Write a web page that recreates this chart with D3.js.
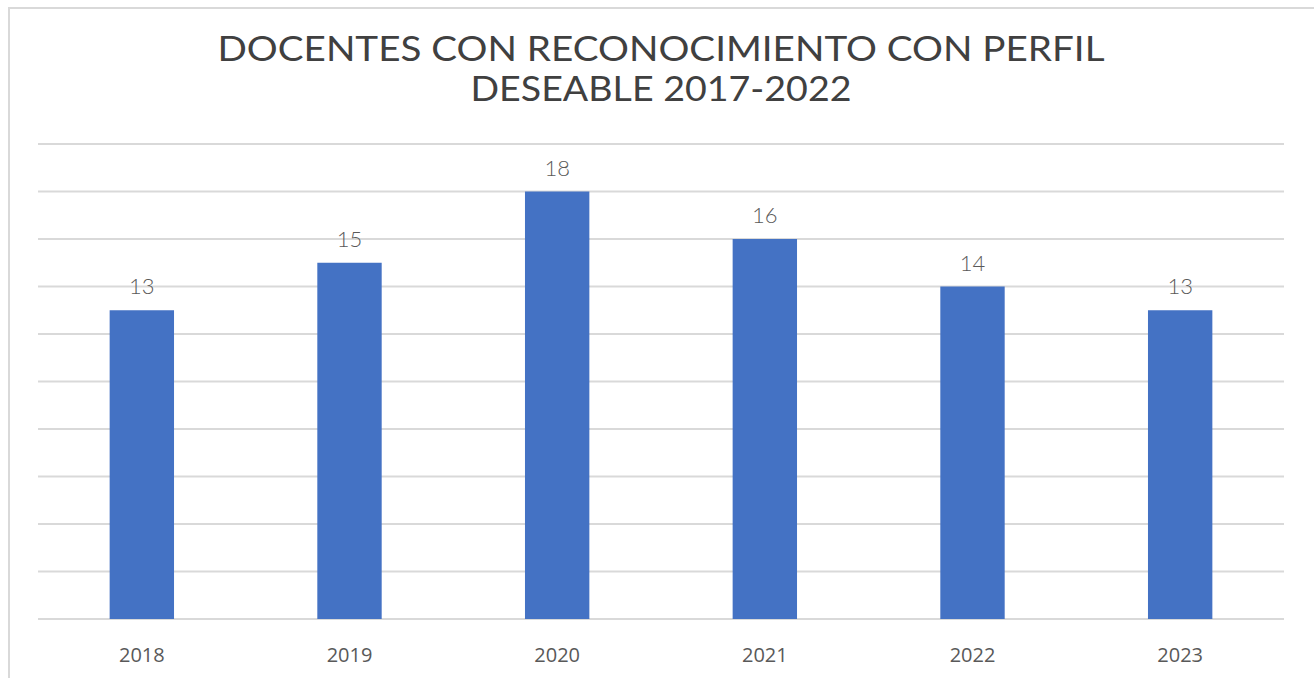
<!DOCTYPE html>
<html>
<head>
<meta charset="utf-8">
<script src="https://cdn.jsdelivr.net/npm/d3@7"></script>
<style>
  body { margin: 0; background: #fff; }
  svg { display: block; }
</style>
</head>
<body>
<svg id="chart" width="1314" height="678"></svg>
<script>
// chart data
const years = ["2018", "2019", "2020", "2021", "2022", "2023"];
const docentes = [13, 15, 18, 16, 14, 13];
const gridTicks = [0, 2, 4, 6, 8, 10, 12, 14, 16, 18, 20];
const titleLines = ["DOCENTES CON RECONOCIMIENTO CON PERFIL", "DESEABLE 2017-2022"];
const titleWidths = [887, 381];

const svg = d3.select("#chart");
const margin = {top: 144, right: 30, bottom: 59, left: 38};
const width = 1314, height = 678;

// outer chart border (left + top only are visible)
svg.append("path")
    .attr("d", "M9,678 L9,8 L1314,8")
    .attr("fill", "none")
    .attr("stroke", "#d9d9d9")
    .attr("stroke-width", 2);

// title
svg.append("g").selectAll("text")
    .data(titleLines)
    .join("text")
    .attr("x", 661)
    .attr("y", (d, i) => 61 + i * 40)
    .attr("text-anchor", "middle")
    .attr("font-family", "Lato, 'Open Sans', sans-serif")
    .attr("font-size", 35)
    .attr("fill", "#404040")
    .attr("textLength", (d, i) => titleWidths[i])
    .attr("lengthAdjust", "spacingAndGlyphs")
    .text(d => d);

let xScale = d3.scaleBand()
    .domain(years)
    .range([margin.left, width - margin.right])
    .paddingInner(0.69)
    .paddingOuter(0.345);

let yScale = d3.scaleLinear()
    .domain([0, 20])
    .range([height - margin.bottom, margin.top]);

// gridlines
svg.append("g").selectAll("line")
    .data(gridTicks)
    .join("line")
    .attr("x1", margin.left)
    .attr("x2", width - margin.right)
    .attr("y1", d => yScale(d))
    .attr("y2", d => yScale(d))
    .attr("stroke", "#d9d9d9")
    .attr("stroke-width", 2);

// bars
svg.append("g").selectAll("rect")
    .data(docentes)
    .join("rect")
    .attr("x", (d, i) => xScale(years[i]))
    .attr("y", d => yScale(d))
    .attr("width", xScale.bandwidth())
    .attr("height", d => yScale(0) - yScale(d))
    .attr("fill", "#4472c4");

// value labels
svg.append("g").selectAll("text")
    .data(docentes)
    .join("text")
    .attr("x", (d, i) => xScale(years[i]) + xScale.bandwidth() / 2)
    .attr("y", d => yScale(d) - 16)
    .attr("text-anchor", "middle")
    .attr("font-family", "Lato, 'Open Sans', sans-serif")
    .attr("font-weight", 300)
    .attr("font-size", 22)
    .attr("fill", "#595959")
    .text(d => d);

// x axis labels
let xAxis = d3.axisBottom(xScale).tickSize(0).tickPadding(0);
let xAxisG = svg.append("g")
    .attr("transform", "translate(0," + (height - margin.bottom) + ")")
    .call(xAxis);
xAxisG.select(".domain").remove();
xAxisG.selectAll("text")
    .attr("y", 43)
    .attr("dy", null)
    .attr("font-family", "'Open Sans', sans-serif")
    .attr("font-size", 20)
    .attr("fill", "#595959");
</script>
</body>
</html>
